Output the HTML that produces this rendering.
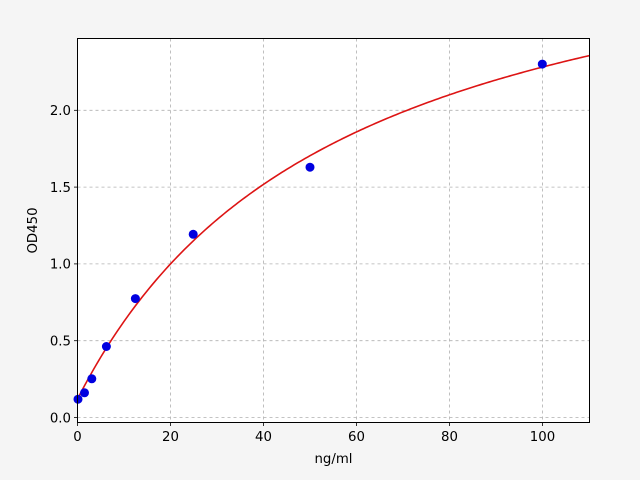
<!DOCTYPE html>
<html><head><meta charset="utf-8"><style>
html,body{margin:0;padding:0;background:#f5f5f5;}
svg{display:block;font-family:"DejaVu Sans","Liberation Sans",sans-serif;}
</style></head><body>
<svg id="s" width="640" height="480" viewBox="0 0 640 480" xmlns="http://www.w3.org/2000/svg">
<rect x="0" y="0" width="640" height="480" fill="#f5f5f5"/>
<rect x="77.5" y="38.5" width="512" height="384" fill="#ffffff"/>
<g stroke="#b0b0b0" stroke-width="0.8" stroke-dasharray="3,3" fill="none">
<line x1="170.5" y1="38.5" x2="170.5" y2="422.5"/>
<line x1="263.5" y1="38.5" x2="263.5" y2="422.5"/>
<line x1="356.5" y1="38.5" x2="356.5" y2="422.5"/>
<line x1="449.5" y1="38.5" x2="449.5" y2="422.5"/>
<line x1="542.5" y1="38.5" x2="542.5" y2="422.5"/>
<line x1="77.5" y1="417.5" x2="589.5" y2="417.5"/>
<line x1="77.5" y1="340.7" x2="589.5" y2="340.7"/>
<line x1="77.5" y1="263.9" x2="589.5" y2="263.9"/>
<line x1="77.5" y1="187.1" x2="589.5" y2="187.1"/>
<line x1="77.5" y1="110.3" x2="589.5" y2="110.3"/>
</g>
<g stroke="#000" stroke-width="0.8">
<line x1="77.5" y1="422.5" x2="77.5" y2="426"/>
<line x1="170.5" y1="422.5" x2="170.5" y2="426"/>
<line x1="263.5" y1="422.5" x2="263.5" y2="426"/>
<line x1="356.5" y1="422.5" x2="356.5" y2="426"/>
<line x1="449.5" y1="422.5" x2="449.5" y2="426"/>
<line x1="542.5" y1="422.5" x2="542.5" y2="426"/>
<line x1="74" y1="417.5" x2="77.5" y2="417.5"/>
<line x1="74" y1="340.7" x2="77.5" y2="340.7"/>
<line x1="74" y1="263.9" x2="77.5" y2="263.9"/>
<line x1="74" y1="187.1" x2="77.5" y2="187.1"/>
<line x1="74" y1="110.3" x2="77.5" y2="110.3"/>
</g>
<g font-size="13.3" fill="#000" text-anchor="middle">
<text x="77.5" y="441">0</text>
<text x="170.5" y="441">20</text>
<text x="263.5" y="441">40</text>
<text x="356.5" y="441">60</text>
<text x="449.5" y="441">80</text>
<text x="542.5" y="441">100</text>
<text x="333.5" y="463">ng/ml</text>
</g>
<g font-size="13.3" fill="#000" text-anchor="end">
<text x="71" y="422.3">0.0</text>
<text x="71" y="345.5">0.5</text>
<text x="71" y="268.7">1.0</text>
<text x="71" y="191.9">1.5</text>
<text x="71" y="115.1">2.0</text>
</g>
<text x="37" y="230.5" font-size="13.3" text-anchor="middle" transform="rotate(-90 37 230.5)">OD450</text>
<path id="curve" d="" fill="none" stroke="#dd1414" stroke-width="1.6"/>
<g fill="#0000e0">
<circle cx="78" cy="399.2" r="4.5"/>
<circle cx="84.5" cy="392.8" r="4.5"/>
<circle cx="91.8" cy="378.8" r="4.5"/>
<circle cx="106.4" cy="346.5" r="4.5"/>
<circle cx="135.4" cy="298.6" r="4.5"/>
<circle cx="193.2" cy="234.3" r="4.5"/>
<circle cx="310" cy="167.2" r="4.5"/>
<circle cx="542.3" cy="64.1" r="4.5"/>
</g>
<rect x="77.5" y="38.5" width="512" height="384" fill="none" stroke="#000" stroke-width="1"/>
</svg>
<script>
var d="";for(var i=0;i<=220;i++){var x=i*0.5;var y=0.12+3.40*x/(57.3+x);var px=77.5+4.65*x,py=417.5-153.6*y;d+=(i?"L":"M")+px.toFixed(2)+","+py.toFixed(2);}
document.getElementById("curve").setAttribute("d",d);
</script>
</body></html>
